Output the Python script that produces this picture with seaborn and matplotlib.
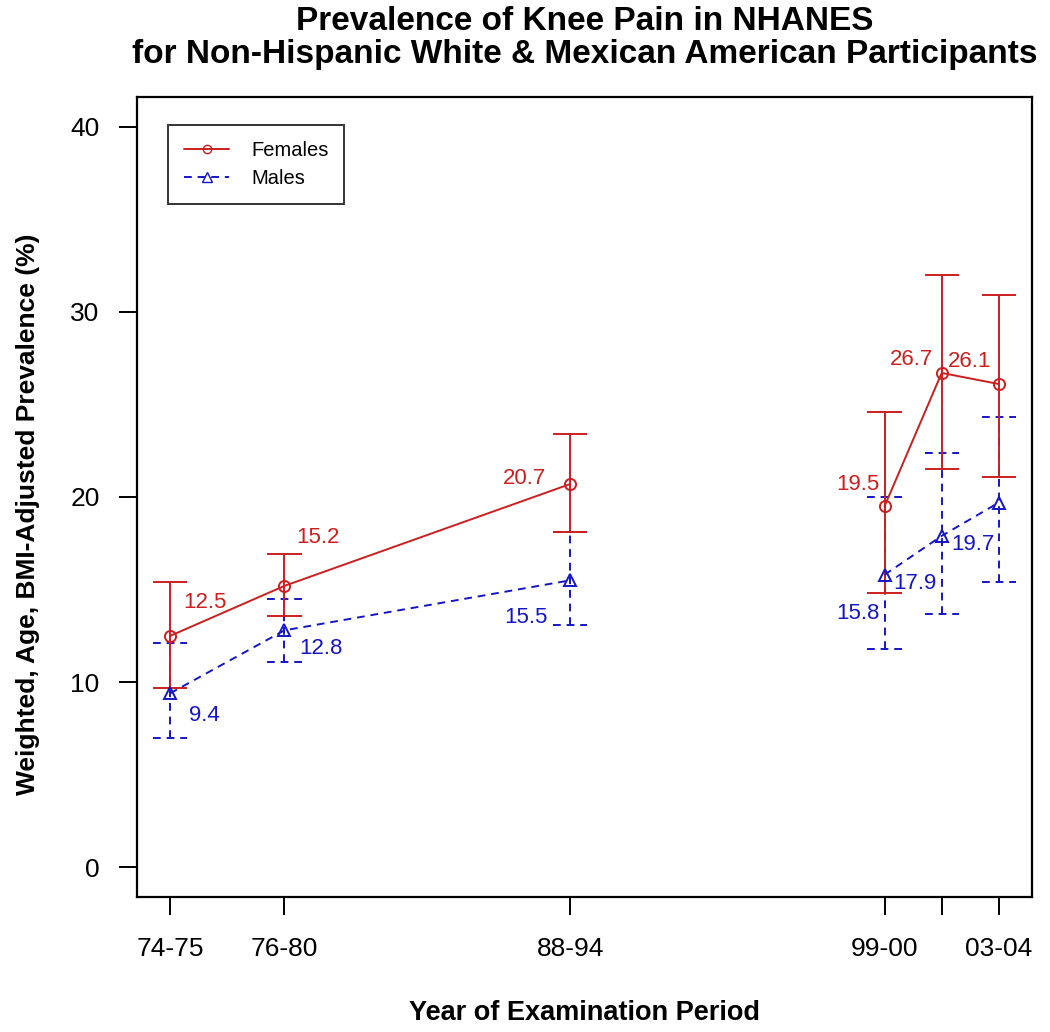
import matplotlib
matplotlib.use("Agg")
import matplotlib.pyplot as plt
import seaborn as sns
import pandas as pd
from matplotlib.lines import Line2D

# ---- data ----
periods = ["74-75", "76-80", "88-94", "99-00", "01-02", "03-04"]
tick_labels = ["74-75", "76-80", "88-94", "99-00", "", "03-04"]
period_x = [1974.5, 1978.5, 1988.5, 1999.5, 2001.5, 2003.5]
survey_block = [1, 1, 1, 2, 2, 2]   # NHANES I/II/III vs continuous NHANES

female_prev = [12.5, 15.2, 20.7, 19.5, 26.7, 26.1]
female_lo = [9.7, 13.6, 18.1, 14.8, 21.5, 21.1]
female_hi = [15.4, 16.9, 23.4, 24.6, 32.0, 30.9]

male_prev = [9.4, 12.8, 15.5, 15.8, 17.9, 19.7]
male_lo = [7.0, 11.1, 13.1, 11.8, 13.7, 15.4]
male_hi = [12.1, 14.5, 18.1, 20.0, 22.4, 24.3]

# label offsets (points) - styling
female_off = [(25, 24), (24, 35), (-33, 4), (-19, 16), (-22, 10), (-21, 16)]
male_off = [(25, -16), (26, -13), (-32, -27), (-19, -28), (-19, -34), (-19, -30)]

RED = "#CC1F1F"
BLUE = "#1515C8"

sns.set_theme(style="white")
plt.rcParams["font.family"] = ["Liberation Sans", "DejaVu Sans"]
plt.rcParams["text.color"] = "black"
plt.rcParams["axes.labelcolor"] = "black"

df = pd.DataFrame({
    "x": period_x * 2,
    "prev": female_prev + male_prev,
    "sex": ["Females"] * 6 + ["Males"] * 6,
    "block": survey_block * 2,
})

fig = plt.figure(figsize=(10.5, 10.32), dpi=100)
ax = fig.add_axes([137 / 1050, 1 - 897 / 1032, 895 / 1050, 800 / 1032])

sns.lineplot(data=df, x="x", y="prev", hue="sex", style="sex", units="block",
             estimator=None,
             palette={"Females": RED, "Males": BLUE},
             dashes={"Females": "", "Males": (4, 3)},
             markers={"Females": "o", "Males": "^"},
             markersize=8, markerfacecolor="none", markeredgewidth=1.4,
             linewidth=1.4, ax=ax, legend=False, zorder=3)
for line in ax.get_lines():
    line.set_markeredgecolor(line.get_color())
    line.set_markerfacecolor("none")

capw = 0.6
lefts = [p - capw for p in period_x]
rights = [p + capw for p in period_x]
dash = (0, (4, 3))
# male CIs (dashed)
ax.vlines(period_x, male_lo, male_hi, colors=BLUE, linestyles=dash, linewidth=1.4, zorder=2)
ax.hlines(male_lo, lefts, rights, colors=BLUE, linestyles=dash, linewidth=1.4, zorder=2)
ax.hlines(male_hi, lefts, rights, colors=BLUE, linestyles=dash, linewidth=1.4, zorder=2)
# female CIs (solid)
ax.vlines(period_x, female_lo, female_hi, colors=RED, linewidth=1.4, zorder=2)
ax.hlines(female_lo, lefts, rights, colors=RED, linewidth=1.4, zorder=2)
ax.hlines(female_hi, lefts, rights, colors=RED, linewidth=1.4, zorder=2)

for x, v, off in zip(period_x, female_prev, female_off):
    ax.annotate(f"{v:.1f}", (x, v), xytext=off, textcoords="offset points",
                ha="center", va="center", color=RED, fontsize=16)
for x, v, off in zip(period_x, male_prev, male_off):
    ax.annotate(f"{v:.1f}", (x, v), xytext=off, textcoords="offset points",
                ha="center", va="center", color=BLUE, fontsize=16)

span = period_x[-1] - period_x[0]
ax.set_xlim(period_x[0] - 0.04 * span, period_x[-1] + 0.04 * span)
ax.set_ylim(-1.6, 41.6)
ax.set_xticks(period_x)
ax.set_xticklabels(tick_labels)
ax.set_yticks([0, 10, 20, 30, 40])
ax.tick_params(axis="both", which="major", bottom=True, left=True, direction="out",
               length=13, width=1.4, color="black", labelsize=19, pad=14,
               labelcolor="black")
ax.tick_params(axis="x", pad=16)
for s in ax.spines.values():
    s.set_visible(True)
    s.set_color("black")
    s.set_linewidth(1.6)

ax.set_xlabel("Year of Examination Period", fontsize=19.5, fontweight="bold",
              labelpad=28, color="black")
ax.set_ylabel("Weighted, Age, BMI-Adjusted Prevalence (%)", fontsize=19,
              fontweight="bold", color="black")
ax.yaxis.set_label_coords(-0.108, 0.478)
fig.text(584.5 / 1050, 1 - 21 / 1032, "Prevalence of Knee Pain in NHANES",
         ha="center", va="center", fontsize=24, fontweight="bold", color="black")
fig.text(584.5 / 1050, 1 - 54 / 1032, "for Non-Hispanic White & Mexican American Participants",
         ha="center", va="center", fontsize=24, fontweight="bold", color="black")

handles = [
    Line2D([], [], color=RED, linewidth=1.4, marker="o", markersize=6,
           markerfacecolor="none", markeredgecolor=RED),
    Line2D([], [], color=BLUE, linewidth=1.4, linestyle=(0, (4, 3)), marker="^", markersize=7,
           markerfacecolor="none", markeredgecolor=BLUE),
]
leg = ax.legend(handles, ["Females", "Males"], loc="upper left",
                bbox_to_anchor=(0.035, 0.965), borderaxespad=0, fontsize=14.5,
                frameon=True, fancybox=False, edgecolor="black", handlelength=2.2,
                handletextpad=1.1, labelspacing=0.45, borderpad=0.8)
leg.get_frame().set_linewidth(1.4)
for t in leg.get_texts():
    t.set_color("black")

fig.savefig("out.png", dpi=100, facecolor="white")
